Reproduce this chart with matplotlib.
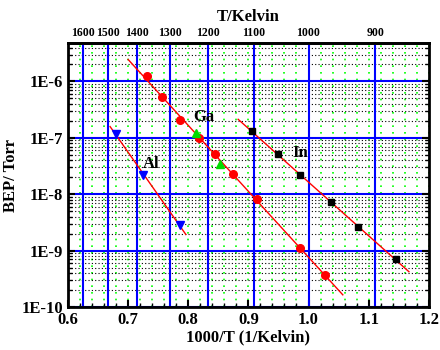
import numpy as np
import matplotlib
matplotlib.use('Agg')
import matplotlib.pyplot as plt
from matplotlib.ticker import MultipleLocator, LogLocator, FuncFormatter, NullFormatter
from matplotlib import rcParams

rcParams['font.family'] = 'Liberation Serif'
rcParams['font.weight'] = 'bold'

# Ga (red circles)
ga_x = [0.731, 0.756, 0.786, 0.818, 0.844, 0.874, 0.914, 0.986, 1.027]
ga_y = [1.23e-6, 5.2e-7, 2.1e-7, 1.0e-7, 5.1e-8, 2.3e-8, 8.1e-9, 1.1e-9, 3.7e-10]
ga_fit = [0.700, 1.057]
# Ga second set (green triangles)
ga2_x = [0.813, 0.853]
ga2_y = [1.2e-7, 3.5e-8]
# Al (blue down triangles)
al_x = [0.680, 0.725, 0.786]
al_y = [1.15e-7, 2.2e-8, 2.8e-9]
al_fit = [0.670, 0.796]
# In (black squares)
in_x = [0.906, 0.949, 0.986, 1.037, 1.082, 1.145]
in_y = [1.3e-7, 5.1e-8, 2.2e-8, 7.2e-9, 2.6e-9, 7.1e-10]
in_fit = [0.883, 1.167]

temps = [1600, 1500, 1400, 1300, 1200, 1100, 1000, 900]

fig = plt.figure(figsize=(4.4, 3.5), dpi=100)
ax = fig.add_axes([0.1545, 0.123, 0.82, 0.754])

ax.set_xlim(0.6, 1.2)
ax.set_ylim(1e-10, 4.8e-6)
ax.set_yscale('log')

ax.xaxis.set_major_locator(MultipleLocator(0.1))
ax.xaxis.set_minor_locator(MultipleLocator(0.02))
ax.yaxis.set_major_locator(LogLocator(base=10, numticks=20))
ax.yaxis.set_minor_locator(LogLocator(base=10, subs=np.arange(2, 10), numticks=20))
ax.yaxis.set_minor_formatter(NullFormatter())
ax.yaxis.set_major_formatter(FuncFormatter(lambda v, p: '1E%d' % round(np.log10(v))))

# grids
ax.xaxis.grid(True, which='both', color='#00ff00', ls=(0, (1, 3)), lw=1.2)
ax.yaxis.grid(True, which='minor', color='black', ls=(0, (1, 2)), lw=0.8)
ax.yaxis.grid(True, which='major', color='#0000ff', ls='-', lw=1.5)
for t in temps:
    ax.axvline(1000.0 / t, color='#0000ff', lw=1.5, zorder=1)
ax.set_axisbelow(True)

def fitline(xs, ys, rng):
    c = np.polyfit(xs, np.log10(ys), 1)
    xx = np.array(rng)
    return xx, 10 ** np.polyval(c, xx)

for xs, ys, rng in [(ga_x, ga_y, ga_fit), (al_x, al_y, al_fit), (in_x, in_y, in_fit)]:
    xx, yy = fitline(xs, ys, rng)
    ax.plot(xx, yy, color='red', lw=1, zorder=3)

ax.plot(ga_x, ga_y, 'o', color='red', ms=5.5, zorder=4)
ax.plot(ga2_x, ga2_y, '^', color='#00dd00', ms=6, zorder=4)
ax.plot(al_x, al_y, 'v', color='#0000ff', ms=6, zorder=4)
ax.plot(in_x, in_y, 's', color='black', ms=4.5, zorder=4)

ax.text(0.808, 2.3e-7, 'Ga', fontsize=12, fontweight='bold', va='center')
ax.text(0.725, 3.5e-8, 'Al', fontsize=12, fontweight='bold', va='center')
ax.text(0.974, 5.4e-8, 'In', fontsize=12, fontweight='bold', va='center')

ax.tick_params(which='both', direction='in', right=True, labelsize=12)
ax.tick_params(which='major', length=5, width=1.5)
ax.tick_params(which='minor', length=3, width=1)
for lbl in ax.get_xticklabels() + ax.get_yticklabels():
    lbl.set_fontweight('bold')
for s in ax.spines.values():
    s.set_linewidth(2)

ax.set_xlabel('1000/T (1/Kelvin)', fontsize=12, fontweight='bold', labelpad=1)
ax.set_ylabel('BEP/ Torr', fontsize=12, fontweight='bold', labelpad=2)

top = ax.secondary_xaxis('top', functions=(lambda x: 1000.0 / np.maximum(x, 1e-9),
                                           lambda t: 1000.0 / np.maximum(t, 1e-9)))
top.set_xticks(temps)
top.set_xticklabels([str(t) for t in temps], fontsize=8.5, fontweight='bold')
top.tick_params(length=0, pad=3)
top.set_xlabel('T/Kelvin', fontsize=12, fontweight='bold', labelpad=4)
top.spines['top'].set_linewidth(2)

fig.savefig('out.png', dpi=100)
